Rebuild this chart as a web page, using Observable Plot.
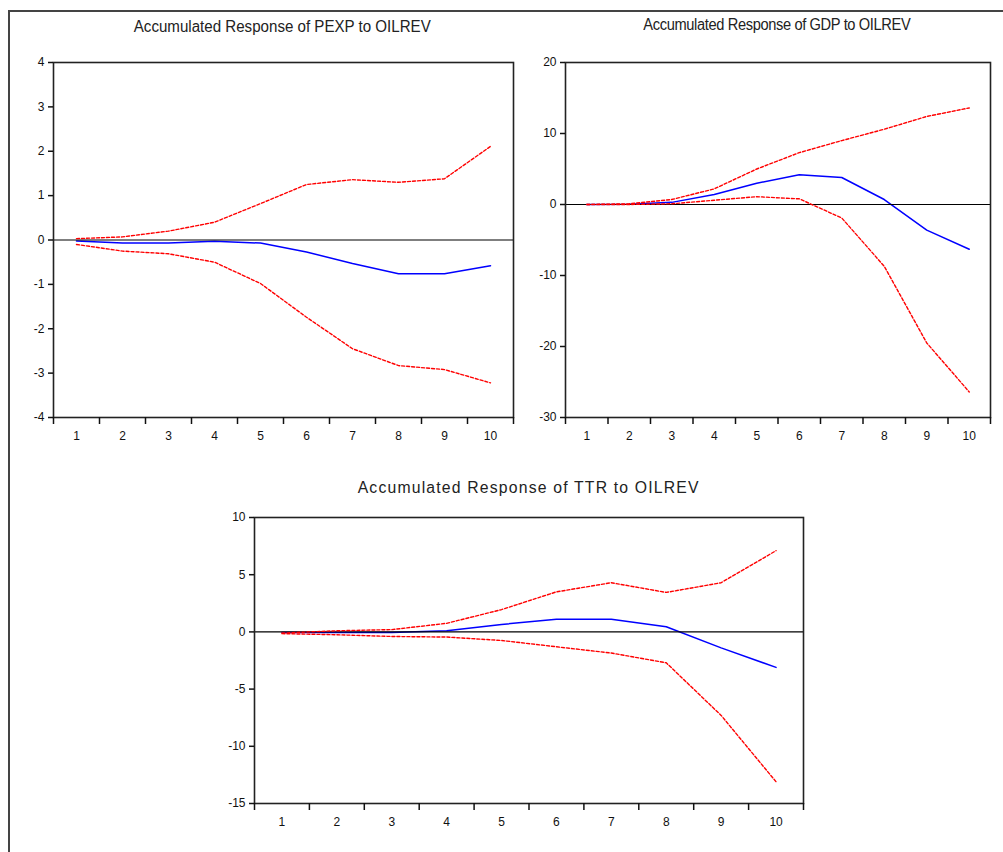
<!DOCTYPE html>
<html>
<head>
<meta charset="utf-8">
<script src="https://cdn.jsdelivr.net/npm/d3@7"></script>
<script src="https://cdn.jsdelivr.net/npm/@observablehq/plot@0.6"></script>
<style>
  html, body { margin: 0; padding: 0; background: #fff; overflow: hidden; }
  #wrap { position: relative; width: 1003px; height: 852px; overflow: hidden; background: #fff; }
  #outer { position: absolute; left: 8px; top: 10px; width: 1100px; height: 900px; border-left: 2px solid #444; border-top: 2px solid #444; }
  .panel { position: absolute; }
  .title { position: absolute; font-family: "Liberation Sans", Arial, sans-serif; font-size: 16px; color: #222; white-space: nowrap; line-height: 18px; }
  .title span { display: inline-block; }
</style>
</head>
<body>
<div id="wrap">
  <div id="outer"></div>
</div>
<script>
// ---- data ----
const periods = [1, 2, 3, 4, 5, 6, 7, 8, 9, 10];

const titles = [
  "Accumulated Response of PEXP to OILREV",
  "Accumulated Response of GDP to OILREV",
  "Accumulated Response of TTR to OILREV"
];

const pexpResp  = [-0.02, -0.07, -0.07, -0.03, -0.07, -0.27, -0.53, -0.76, -0.76, -0.58];
const pexpUpper = [0.03, 0.07, 0.20, 0.40, 0.82, 1.25, 1.36, 1.30, 1.38, 2.11];
const pexpLower = [-0.10, -0.25, -0.31, -0.50, -0.98, -1.74, -2.45, -2.83, -2.92, -3.22];
const pexpTicks = [-4, -3, -2, -1, 0, 1, 2, 3, 4];

const gdpResp  = [0.0, 0.05, 0.3, 1.4, 3.0, 4.2, 3.8, 0.7, -3.6, -6.3];
const gdpUpper = [0.0, 0.1, 0.7, 2.2, 5.0, 7.3, 9.0, 10.6, 12.4, 13.6];
const gdpLower = [0.0, 0.0, 0.1, 0.6, 1.1, 0.8, -1.9, -8.7, -19.5, -26.4];
const gdpTicks = [-30, -20, -10, 0, 10, 20];

const ttrResp  = [-0.05, -0.05, -0.05, 0.1, 0.65, 1.1, 1.1, 0.45, -1.4, -3.1];
const ttrUpper = [-0.1, 0.1, 0.2, 0.75, 1.95, 3.5, 4.3, 3.45, 4.3, 7.1];
const ttrLower = [-0.15, -0.25, -0.4, -0.45, -0.75, -1.3, -1.85, -2.7, -7.3, -13.1];
const ttrTicks = [-15, -10, -5, 0, 5, 10];

// ---- drawing ----
const wrap = document.getElementById("wrap");
const rows = arr => periods.map((p, i) => ({x: p, y: arr[i]}));
const bounds = d3.range(periods[0] - 0.5, periods[periods.length - 1] + 1, 1);

function panel(cfg) {
  const chart = Plot.plot({
    width: cfg.width,
    height: cfg.height,
    marginLeft: cfg.ml, marginRight: cfg.mr, marginTop: cfg.mt, marginBottom: cfg.mb,
    style: {fontFamily: "'Liberation Sans', Arial, sans-serif", fontSize: "12px", color: "#111", background: "transparent", overflow: "visible"},
    x: {domain: [periods[0] - 0.5, periods[periods.length - 1] + 0.5]},
    y: {domain: cfg.yDomain},
    marks: [
      Plot.line(rows(cfg.resp), {x: "x", y: "y", stroke: "#0000ff", strokeWidth: 1.5}),
      Plot.ruleY([0], {stroke: "#000", strokeWidth: 1.2}),
      Plot.line(rows(cfg.upper), {x: "x", y: "y", stroke: "#ff0000", strokeWidth: 1.4, strokeDasharray: "3,2"}),
      Plot.line(rows(cfg.lower), {x: "x", y: "y", stroke: "#ff0000", strokeWidth: 1.4, strokeDasharray: "3,2"}),
      Plot.frame({stroke: "#222", strokeWidth: 1.6}),
      Plot.axisY({ticks: cfg.yTicks, tickSize: 5, tickPadding: 4, strokeWidth: 1.5, label: null, tickFormat: d => String(d)}),
      Plot.axisX({ticks: bounds, tickSize: 7, strokeWidth: 1.5, label: null, tickFormat: () => ""}),
      Plot.axisX({ticks: periods, tickSize: 0, tickPadding: 14, label: null, tickFormat: d => String(d)})
    ]
  });
  const div = document.createElement("div");
  div.className = "panel";
  div.style.left = cfg.left + "px";
  div.style.top = cfg.top + "px";
  div.appendChild(chart);
  wrap.appendChild(div);

  const t = document.createElement("div");
  t.className = "title";
  const span = document.createElement("span");
  span.textContent = cfg.title;
  span.style.letterSpacing = cfg.ls + "px";
  t.appendChild(span);
  wrap.appendChild(t);
  const w = span.getBoundingClientRect().width;
  const s = cfg.titleWidth / w;
  span.style.transform = `scaleX(${s})`;
  span.style.transformOrigin = "center";
  t.style.left = (cfg.titleX - w / 2) + "px";
  t.style.top = (cfg.titleY - 9) + "px";
}

panel({title: titles[0], resp: pexpResp, upper: pexpUpper, lower: pexpLower, yDomain: [-4, 4], yTicks: pexpTicks,
  left: 0, top: 40, width: 525, height: 410, ml: 53, mr: 12, mt: 22, mb: 33,
  titleX: 282, titleY: 27, titleWidth: 297, ls: 0});
panel({title: titles[1], resp: gdpResp, upper: gdpUpper, lower: gdpLower, yDomain: [-30, 20], yTicks: gdpTicks,
  left: 510, top: 40, width: 493, height: 410, ml: 55, mr: 13, mt: 22, mb: 33,
  titleX: 777, titleY: 25, titleWidth: 267, ls: -0.4});
panel({title: titles[2], resp: ttrResp, upper: ttrUpper, lower: ttrLower, yDomain: [-15, 10], yTicks: ttrTicks,
  left: 190, top: 495, width: 625, height: 340, ml: 64, mr: 12, mt: 22, mb: 32,
  titleX: 529, titleY: 488, titleWidth: 342, ls: 1.2});
</script>
</body>
</html>
